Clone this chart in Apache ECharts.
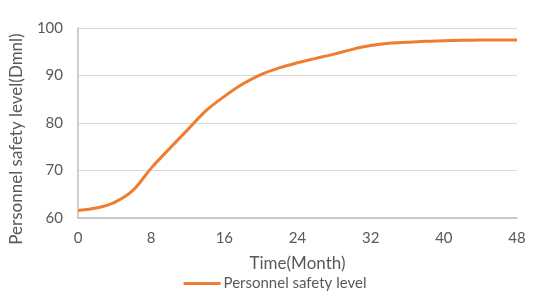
<!DOCTYPE html>
<html>
<head>
<meta charset="utf-8">
<script src="https://cdn.jsdelivr.net/npm/echarts@6/dist/echarts.min.js"></script>
<style>
  html, body { margin: 0; padding: 0; background: #fff; }
  #chart { width: 550px; height: 305px; }
</style>
</head>
<body>
<div id="chart"></div>
<script>
// months and safety level
const months = [0, 2, 4, 6, 8, 10, 12, 14, 16, 18, 20, 22, 24, 26, 28, 30, 32, 34, 36, 38, 40, 42, 44, 46, 48];
const safety = [61.6, 62.1, 63.3, 65.8, 70.5, 74.6, 78.6, 82.6, 85.6, 88.2, 90.2, 91.6, 92.7, 93.6, 94.5, 95.5, 96.3, 96.8, 97.0, 97.2, 97.3, 97.4, 97.5, 97.5, 97.5];
const seriesName = 'Personnel safety level';

const chart = echarts.init(document.getElementById('chart'));
const font = 'Lato, "Open Sans", sans-serif';

chart.setOption({
  backgroundColor: '#fff',
  animation: false,
  textStyle: { fontFamily: font },
  grid: { left: 76, right: 33, top: 28, bottom: 87 },
  legend: {
    data: [seriesName],
    left: 'center',
    top: 271,
    itemWidth: 37,
    itemHeight: 3,
    itemGap: 4,
    icon: 'rect',
    textStyle: { color: '#595959', fontSize: 15, fontFamily: font, padding: [0, 0, 0, -2] }
  },
  xAxis: {
    type: 'value',
    min: 0,
    max: 48,
    interval: 8,
    name: 'Time(Month)',
    nameLocation: 'middle',
    nameGap: 37,
    nameTextStyle: { color: '#595959', fontSize: 17, fontFamily: font },
    axisLine: { show: true, lineStyle: { color: '#bfbfbf', width: 1.5 } },
    axisTick: { show: false },
    axisLabel: { color: '#595959', fontSize: 15, margin: 13 },
    splitLine: { show: false }
  },
  yAxis: {
    type: 'value',
    min: 60,
    max: 100,
    interval: 10,
    name: 'Personnel safety level(Dmnl)',
    nameLocation: 'middle',
    nameGap: 53,
    nameTextStyle: { color: '#595959', fontSize: 17, fontFamily: font, padding: [0, 32, 0, 0] },
    axisLine: { show: true, lineStyle: { color: '#bfbfbf', width: 1.5 } },
    axisTick: { show: false },
    axisLabel: { color: '#595959', fontSize: 15, margin: 15 },
    splitLine: { lineStyle: { color: '#d9d9d9', width: 1 } }
  },
  series: [{
    name: seriesName,
    type: 'line',
    data: months.map((m, i) => [m, safety[i]]),
    smooth: 0.3,
    showSymbol: false,
    lineStyle: { color: '#ed7d31', width: 3 },
    itemStyle: { color: '#ed7d31' }
  }]
});
</script>
</body>
</html>
